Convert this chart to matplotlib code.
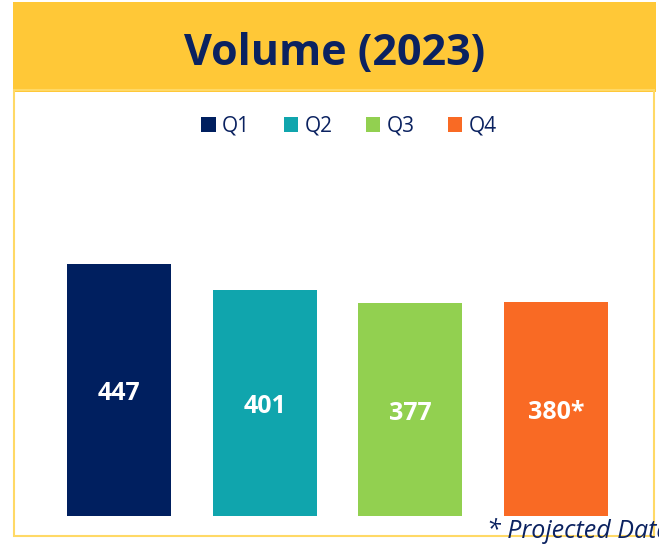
import matplotlib
matplotlib.use("Agg")
import matplotlib.pyplot as plt
from matplotlib.patches import Rectangle

plt.rcParams['font.family'] = ['Open Sans', 'DejaVu Sans']

quarters = ["Q1", "Q2", "Q3", "Q4"]
volumes = [447, 401, 377, 380]
bar_labels = ["447", "401", "377", "380*"]
colors = ["#001f5f", "#10a5ad", "#92d050", "#f96a24"]
title = "Volume (2023)"
footnote = "* Projected Data"

navy = "#0b2260"
yellow = "#ffc837"

W, H = 659, 544
fig = plt.figure(figsize=(W / 100, H / 100), dpi=100)

# banner + outer frame
fig.patches.append(Rectangle((13 / W, 1 - 92 / H), (656 - 13) / W, 90 / H,
                             transform=fig.transFigure, facecolor=yellow,
                             edgecolor="none", zorder=0))
fig.patches.append(Rectangle((14 / W, 1 - 536 / H), (654 - 14) / W, (536 - 90) / H,
                             transform=fig.transFigure, facecolor="none",
                             edgecolor="#ffd966", linewidth=1.5, zorder=0))
fig.text(335 / W, 1 - 53 / H, title, ha="center", va="center",
         fontsize=31, fontweight="bold", color=navy)

# axes placed so bar centres land where they are in the picture
ax = fig.add_axes([46 / W, 1 - 516 / H, 583 / W, 400 / H])
x = range(len(quarters))
bars = ax.bar(x, volumes, width=0.713, color=colors)
ax.set_xlim(-0.5, 3.5)
ax.set_ylim(0, 400 / 0.5638)
ax.axis("off")

for b, lab in zip(bars, bar_labels):
    ax.annotate(lab, (b.get_x() + b.get_width() / 2, b.get_height() / 2),
                xytext=(0, -2.5), textcoords="offset points",
                ha="center", va="center", color="white", fontsize=18,
                fontweight="bold")

leg = fig.legend(bars, quarters, loc="center", bbox_to_anchor=(349 / W, 1 - 126 / H),
                 ncol=4, frameon=False, fontsize=15, handlelength=0.7,
                 handleheight=0.7, handletextpad=0.3, columnspacing=1.6,
                 labelcolor=navy)

fig.text(487 / W, 1 - 531 / H, footnote, ha="left", va="center",
         fontsize=18, fontstyle="italic", color=navy)

fig.savefig("out.png", dpi=100)
